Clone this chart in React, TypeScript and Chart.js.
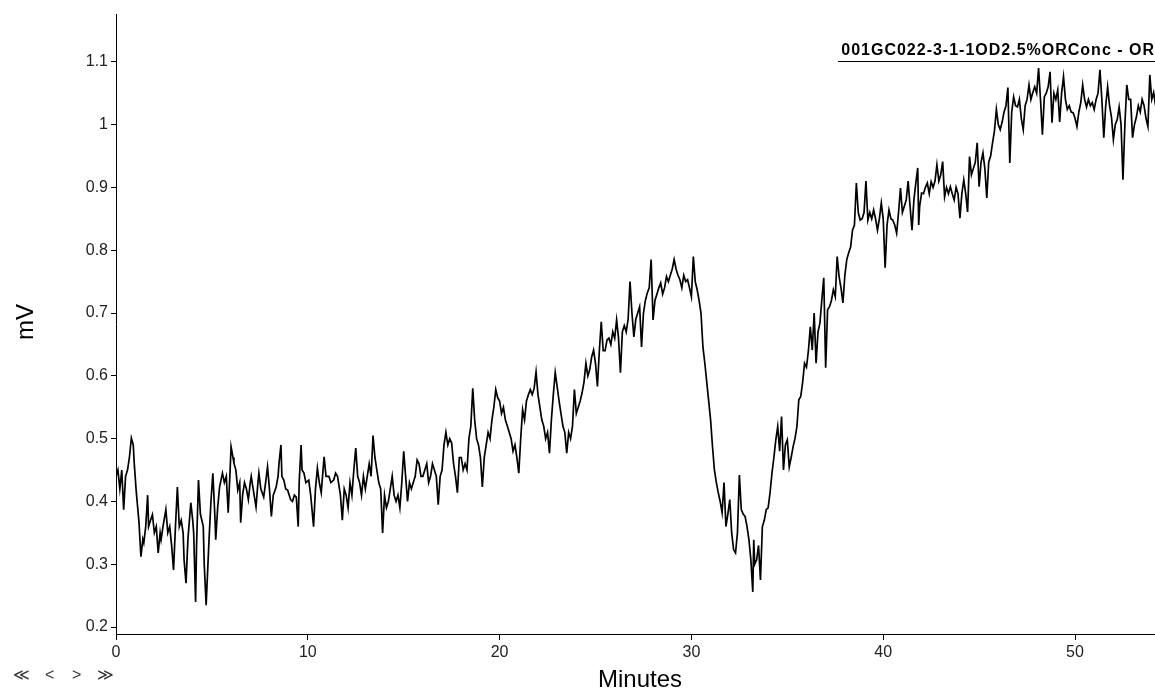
import React, { useEffect, useRef } from "react";
import { Chart, registerables } from "chart.js";

Chart.register(...registerables);

const seriesName = "001GC022-3-1-1OD2.5%ORConc - OR";
const xTitle = "Minutes";
const yTitle = "mV";
const navLabels = ["≪", "<", ">", "≫"];

const xTicks = [0, 10, 20, 30, 40, 50];
const yTicks = [0.2, 0.3, 0.4, 0.5, 0.6, 0.7, 0.8, 0.9, 1, 1.1];

const minutes = [
  0.0, 0.1, 0.2, 0.3, 0.4, 0.5, 0.6, 0.7, 0.8, 0.9,
  0.95, 1.05, 1.2, 1.3, 1.4, 1.45, 1.55, 1.65, 1.7, 1.8,
  1.9, 2.0, 2.1, 2.2, 2.3, 2.35, 2.45, 2.6, 2.7, 2.8,
  2.9, 3.0, 3.1, 3.2, 3.3, 3.4, 3.5, 3.55, 3.65, 3.75,
  3.9, 4.0, 4.05, 4.15, 4.2, 4.3, 4.4, 4.55, 4.6, 4.7,
  4.75, 4.85, 4.95, 5.05, 5.15, 5.2, 5.3, 5.4, 5.55, 5.65,
  5.75, 5.85, 5.95, 6.0, 6.1, 6.15, 6.25, 6.35, 6.45, 6.5,
  6.6, 6.7, 6.8, 6.9, 7.0, 7.05, 7.15, 7.3, 7.4, 7.45,
  7.55, 7.7, 7.8, 7.9, 8.0, 8.1, 8.2, 8.35, 8.45, 8.5,
  8.6, 8.65, 8.75, 8.85, 8.95, 9.1, 9.2, 9.3, 9.4, 9.5,
  9.55, 9.65, 9.7, 9.8, 9.9, 10.05, 10.15, 10.3, 10.4, 10.5,
  10.6, 10.7, 10.85, 10.95, 11.1, 11.2, 11.35, 11.45, 11.55, 11.7,
  11.8, 11.9, 12.0, 12.1, 12.2, 12.3, 12.4, 12.5, 12.6, 12.7,
  12.8, 12.9, 13.0, 13.1, 13.2, 13.3, 13.4, 13.5, 13.6, 13.7,
  13.8, 13.9,
  14.0, 14.1, 14.2, 14.3, 14.4, 14.5, 14.6, 14.7, 14.8, 14.9,
  15.0, 15.1, 15.2, 15.3, 15.4, 15.5, 15.6, 15.7, 15.8, 15.9,
  16.0, 16.1, 16.2, 16.3, 16.4, 16.5, 16.6, 16.7, 16.8, 16.9,
  17.0, 17.1, 17.2, 17.3, 17.4, 17.5, 17.6, 17.7, 17.8, 17.9,
  18.0, 18.1, 18.2, 18.3, 18.4, 18.5, 18.6, 18.7, 18.8, 18.9,
  19.0, 19.1, 19.2, 19.3, 19.4, 19.5, 19.6, 19.7, 19.8, 19.9,
  20.0, 20.1, 20.2, 20.3, 20.4, 20.5, 20.6, 20.7, 20.8, 20.9,
  21.0, 21.1, 21.2, 21.3, 21.4, 21.5, 21.6, 21.7, 21.8, 21.9,
  22.0, 22.1, 22.2, 22.3, 22.4, 22.5, 22.6, 22.7, 22.8, 22.9,
  23.0, 23.1, 23.2, 23.3, 23.4, 23.5, 23.6, 23.7, 23.8, 23.9,
  24.0, 24.1, 24.2, 24.3, 24.4, 24.5, 24.6, 24.7, 24.8, 24.9,
  25.0, 25.1, 25.2, 25.3, 25.4, 25.5, 25.6, 25.7, 25.8, 25.9,
  26.0, 26.1, 26.2, 26.3, 26.4, 26.5, 26.6, 26.7, 26.8, 26.9,
  27.0, 27.1, 27.2, 27.3, 27.4, 27.5, 27.6, 27.7, 27.8, 27.9,
  28.0, 28.1, 28.2, 28.3, 28.4, 28.5, 28.6, 28.7, 28.8, 28.9,
  29.0, 29.1, 29.2, 29.3, 29.4, 29.5, 29.6, 29.7, 29.8, 29.9,
  30.0, 30.1, 30.2, 30.3, 30.4, 30.5, 30.6, 30.7, 30.8, 30.9,
  31.0, 31.1, 31.2, 31.3, 31.4, 31.5, 31.6, 31.7, 31.8, 31.9,
  32.0, 32.1, 32.2, 32.3, 32.4, 32.5, 32.6, 32.7, 32.8, 32.9,
  33.0, 33.1, 33.2, 33.25, 33.3, 33.4, 33.5, 33.6, 33.7, 33.8, 33.9,
  34.0, 34.1, 34.2, 34.3, 34.4, 34.5, 34.6, 34.7, 34.8, 34.9,
  35.0, 35.1, 35.2, 35.3, 35.4, 35.5, 35.6, 35.7, 35.8, 35.9,
  36.0, 36.1, 36.2, 36.3, 36.4, 36.5, 36.6, 36.7, 36.8, 36.9,
  37.0, 37.1, 37.2, 37.3, 37.4, 37.5, 37.6, 37.7, 37.8, 37.9,
  38.0, 38.1, 38.2, 38.3, 38.4, 38.5, 38.6, 38.7, 38.8, 38.9,
  39.0, 39.1, 39.2, 39.3, 39.4, 39.5, 39.6, 39.7, 39.8, 39.9,
  40.0, 40.1, 40.2, 40.3, 40.4, 40.5, 40.6, 40.7, 40.8, 40.9,
  41.0, 41.1, 41.2, 41.3, 41.4, 41.5, 41.6, 41.7, 41.8, 41.85, 41.9,
  42.0, 42.1, 42.2, 42.3, 42.4, 42.5, 42.6, 42.7, 42.8, 42.9,
  43.0, 43.1, 43.2, 43.3, 43.4, 43.5, 43.6, 43.7, 43.8, 43.9,
  44.0, 44.1, 44.2, 44.3, 44.4, 44.5, 44.6, 44.7, 44.8, 44.9,
  45.0, 45.1, 45.2, 45.3, 45.4, 45.5, 45.6, 45.7, 45.8, 45.9,
  46.0, 46.1, 46.2, 46.3, 46.4, 46.5, 46.6, 46.7, 46.8, 46.9,
  47.0, 47.1, 47.2, 47.3, 47.4, 47.5, 47.6, 47.7, 47.8, 47.9,
  48.0, 48.1, 48.2, 48.3, 48.4, 48.5, 48.6, 48.7, 48.8, 48.9,
  49.0, 49.1, 49.2, 49.3, 49.4, 49.5, 49.6, 49.7, 49.8, 49.9,
  50.0, 50.1, 50.2, 50.3, 50.4, 50.5, 50.6, 50.7, 50.8, 50.9,
  51.0, 51.1, 51.2, 51.3, 51.4, 51.5, 51.6, 51.7, 51.8, 51.9,
  52.0, 52.1, 52.2, 52.3, 52.4, 52.5, 52.6, 52.7, 52.8, 52.9,
  53.0, 53.1, 53.2, 53.3, 53.4, 53.5, 53.6, 53.7, 53.8, 53.9,
  54.0, 54.1, 54.2,
];

const mV = [
  0.44, 0.45, 0.42, 0.45, 0.387, 0.44, 0.45, 0.47, 0.501, 0.49,
  0.461, 0.418, 0.366, 0.312, 0.34, 0.334, 0.36, 0.41, 0.36, 0.37,
  0.379, 0.35, 0.36, 0.318, 0.35, 0.339, 0.36, 0.387, 0.35, 0.36,
  0.33, 0.291, 0.36, 0.423, 0.36, 0.37, 0.35, 0.307, 0.27, 0.34,
  0.398, 0.37, 0.35, 0.24, 0.33, 0.434, 0.38, 0.36, 0.3, 0.235,
  0.27, 0.339, 0.4, 0.445, 0.38, 0.339, 0.39, 0.423, 0.445, 0.43,
  0.44, 0.382, 0.45, 0.487, 0.47, 0.461, 0.45, 0.418, 0.43, 0.366,
  0.41, 0.43, 0.42, 0.403, 0.43, 0.44, 0.42, 0.391, 0.43, 0.445,
  0.42, 0.407, 0.43, 0.455, 0.42, 0.376, 0.41, 0.423, 0.44, 0.461,
  0.49, 0.44, 0.434, 0.42, 0.418, 0.403, 0.4, 0.41, 0.407, 0.36,
  0.43, 0.49, 0.45, 0.445, 0.43, 0.434, 0.41, 0.36, 0.42, 0.453,
  0.43, 0.414, 0.471, 0.44, 0.44, 0.43, 0.434, 0.445, 0.44, 0.41,
  0.37, 0.42, 0.41, 0.39, 0.43, 0.41, 0.45, 0.485, 0.44, 0.43,
  0.41, 0.44, 0.42, 0.44, 0.46, 0.44, 0.505, 0.47, 0.45, 0.43,
  0.42, 0.35,
  0.41, 0.39, 0.4, 0.42, 0.44, 0.41, 0.4, 0.41, 0.39, 0.43,
  0.48, 0.44, 0.4, 0.43, 0.42, 0.43, 0.44, 0.466, 0.46, 0.44,
  0.44, 0.45, 0.46, 0.43, 0.44, 0.46, 0.45, 0.44, 0.395, 0.44,
  0.45, 0.49, 0.51, 0.49, 0.5, 0.493, 0.46, 0.44, 0.414, 0.47,
  0.47, 0.45, 0.46, 0.45, 0.5, 0.52, 0.58, 0.53, 0.5, 0.49,
  0.47, 0.423, 0.47, 0.49, 0.51, 0.5, 0.53, 0.55, 0.578, 0.565,
  0.56, 0.54, 0.55, 0.53, 0.52, 0.51, 0.5, 0.48, 0.49, 0.47,
  0.445, 0.5, 0.546, 0.53, 0.56, 0.57, 0.578, 0.57, 0.58, 0.606,
  0.57, 0.55, 0.53, 0.52, 0.5, 0.51, 0.477, 0.53, 0.57, 0.605,
  0.583, 0.56, 0.54, 0.52, 0.51, 0.477, 0.51, 0.5, 0.52, 0.578,
  0.54, 0.55, 0.56, 0.573, 0.59, 0.62, 0.6, 0.61, 0.63, 0.641,
  0.62, 0.583, 0.64, 0.686, 0.64, 0.64, 0.657, 0.66, 0.65, 0.67,
  0.66, 0.689, 0.66, 0.605, 0.67, 0.68, 0.67, 0.69, 0.75, 0.7,
  0.662, 0.69, 0.7, 0.71, 0.646, 0.7, 0.72, 0.732, 0.74, 0.785,
  0.689, 0.72, 0.73, 0.74, 0.748, 0.73, 0.74, 0.758, 0.75, 0.76,
  0.77, 0.785, 0.77, 0.76, 0.753, 0.74, 0.76, 0.75, 0.753, 0.74,
  0.726, 0.79, 0.75, 0.737, 0.72, 0.7, 0.646, 0.62, 0.59, 0.56,
  0.53, 0.487, 0.45, 0.43, 0.414, 0.4, 0.382, 0.43, 0.36, 0.38,
  0.403, 0.35, 0.323, 0.318, 0.35, 0.442, 0.387, 0.38, 0.376, 0.36,
  0.339, 0.307, 0.256, 0.339, 0.3, 0.307, 0.33, 0.275, 0.36, 0.37, 0.387,
  0.39, 0.414, 0.445, 0.47, 0.498, 0.519, 0.48, 0.535, 0.45, 0.49,
  0.498, 0.455, 0.47, 0.487, 0.5, 0.519, 0.562, 0.567, 0.59, 0.62,
  0.614, 0.64, 0.678, 0.641, 0.7, 0.62, 0.67, 0.684, 0.721, 0.756,
  0.613, 0.705, 0.71, 0.72, 0.737, 0.726, 0.79, 0.758, 0.74, 0.716,
  0.76, 0.785, 0.796, 0.805, 0.832, 0.84, 0.907, 0.86, 0.848, 0.85,
  0.86, 0.91, 0.848, 0.86, 0.85, 0.864, 0.85, 0.832, 0.85, 0.875,
  0.85, 0.772, 0.84, 0.864, 0.85, 0.848, 0.84, 0.827, 0.86, 0.899,
  0.86, 0.87, 0.88, 0.91, 0.87, 0.832, 0.88, 0.907, 0.931, 0.84, 0.87,
  0.891, 0.89, 0.9, 0.907, 0.89, 0.909, 0.9, 0.91, 0.936, 0.91,
  0.92, 0.941, 0.885, 0.9, 0.89, 0.901, 0.89, 0.88, 0.9, 0.89,
  0.851, 0.89, 0.912, 0.89, 0.861, 0.949, 0.92, 0.93, 0.94, 0.971,
  0.901, 0.94, 0.955, 0.93, 0.883, 0.94, 0.95, 0.971, 0.99, 1.024,
  1.0, 0.992, 1.004, 1.02, 1.03, 1.059, 0.939, 1.02, 1.044, 1.03,
  1.028, 1.04, 1.01, 0.992, 1.03, 1.04, 1.063, 1.04, 1.051, 1.06,
  1.05, 1.09, 1.04, 0.984, 1.044, 1.05, 1.06, 1.084, 1.003, 1.05,
  1.04, 1.055, 1.004, 1.05, 1.076, 1.04, 1.024, 1.03, 1.02, 1.019,
  1.01, 0.997, 1.02, 1.035, 1.063, 1.04, 1.028, 1.04, 1.03, 1.035,
  1.024, 1.04, 1.05, 1.087, 1.04, 0.979, 1.03, 1.06, 1.03, 1.012,
  0.976, 1.0, 1.008, 1.028, 1.0, 0.912, 1.0, 1.063, 1.04, 1.04,
  0.979, 1.0, 1.012, 1.03, 1.02, 1.04, 1.03, 1.01, 0.997, 1.079,
  1.04, 1.051, 1.03,
];

const X_MIN = 0;
const X_MAX = 54.17;
const Y_MIN = 0.189;
const Y_MAX = 1.176;

const FONT = "'Liberation Sans', Arial, sans-serif";

export default function App() {
  const canvasRef = useRef<HTMLCanvasElement | null>(null);

  useEffect(() => {
    document.body.style.margin = "0";
    const canvas = canvasRef.current;
    if (!canvas) return;
    const points = minutes.map((m, i) => ({ x: m, y: mV[i] }));
    const chart = new Chart(canvas, {
      type: "line",
      data: {
        datasets: [
          {
            label: seriesName,
            data: points,
            borderColor: "#000",
            borderWidth: 1.7,
            pointRadius: 0,
            fill: false,
            tension: 0,
          },
        ],
      },
      options: {
        animation: false,
        responsive: false,
        maintainAspectRatio: false,
        devicePixelRatio: 1,
        layout: { padding: { top: 14, left: 0, right: 0, bottom: 0 } },
        plugins: {
          legend: { display: false },
          tooltip: { enabled: false },
        },
        scales: {
          x: {
            type: "linear",
            min: X_MIN,
            max: X_MAX,
            afterBuildTicks: (s: any) => {
              s.ticks = xTicks.map((v) => ({ value: v }));
            },
            afterFit: (s: any) => {
              s.height = 59;
            },
            ticks: {
              font: { family: FONT, size: 16 },
              color: "#222",
              padding: 3,
              maxRotation: 0,
              autoSkip: false,
              callback: (v: any) => String(v),
            },
            grid: {
              display: true,
              drawOnChartArea: false,
              drawTicks: true,
              tickLength: 6,
              color: "#000",
              lineWidth: 1,
            },
            border: { display: true, color: "#000", width: 1 },
          },
          y: {
            type: "linear",
            min: Y_MIN,
            max: Y_MAX,
            afterBuildTicks: (s: any) => {
              s.ticks = yTicks.map((v) => ({ value: v }));
            },
            afterFit: (s: any) => {
              s.width = 116;
            },
            ticks: {
              font: { family: FONT, size: 16 },
              color: "#222",
              padding: 3,
              autoSkip: false,
              callback: (v: any) => String(Math.round(Number(v) * 10) / 10),
            },
            grid: {
              display: true,
              drawOnChartArea: false,
              drawTicks: true,
              tickLength: 5,
              color: "#000",
              lineWidth: 1,
            },
            border: { display: true, color: "#000", width: 1 },
          },
        },
      },
    });
    return () => chart.destroy();
  }, []);

  const navLeft = [13, 45, 72, 97];

  return (
    <div
      style={{
        position: "relative",
        width: 1155,
        height: 693,
        overflow: "hidden",
        background: "#fff",
        fontFamily: FONT,
      }}
    >
      <canvas
        ref={canvasRef}
        width={1155}
        height={693}
        style={{ position: "absolute", left: 0, top: 0, width: 1155, height: 693 }}
      />
      <div
        style={{
          position: "absolute",
          right: 0,
          top: 40,
          fontSize: 16,
          fontWeight: "bold",
          letterSpacing: 1,
          lineHeight: "19px",
          color: "#000",
          whiteSpace: "nowrap",
          borderBottom: "1px solid #000",
          paddingBottom: 2,
          paddingLeft: 3,
        }}
      >
        {seriesName}
      </div>
      <div
        style={{
          position: "absolute",
          left: 25,
          top: 322,
          transform: "translate(-50%, -50%) rotate(-90deg)",
          fontSize: 24,
          lineHeight: "24px",
          color: "#000",
          whiteSpace: "nowrap",
        }}
      >
        {yTitle}
      </div>
      <div
        style={{
          position: "absolute",
          left: 640,
          top: 667,
          transform: "translateX(-50%)",
          fontSize: 24,
          lineHeight: "24px",
          color: "#000",
          whiteSpace: "nowrap",
        }}
      >
        {xTitle}
      </div>
      {navLabels.map((t, i) => (
        <div
          key={i}
          style={{
            position: "absolute",
            left: navLeft[i],
            top: 666,
            fontSize: 16,
            lineHeight: "18px",
            color: "#333",
          }}
        >
          {t}
        </div>
      ))}
    </div>
  );
}
